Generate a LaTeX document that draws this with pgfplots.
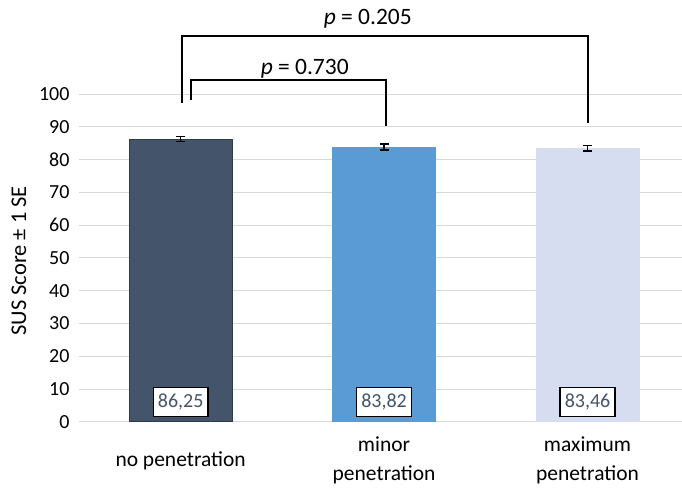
\documentclass[border=0pt]{standalone}
\usepackage{fontspec}
\setmainfont{Carlito}
\usepackage{pgfplots}
\pgfplotsset{compat=1.18}
\definecolor{barA}{HTML}{44546A}
\definecolor{barB}{HTML}{5B9BD5}
\definecolor{barC}{HTML}{D6DDF0}
\definecolor{gridc}{HTML}{D9D9D9}
\definecolor{labc}{HTML}{44546A}
\begin{document}
\begin{tikzpicture}
\begin{axis}[
  name=ax,
  scale only axis,
  width=603bp, height=328bp,
  xmin=-0.5, xmax=2.462,
  ymin=0, ymax=100,
  ytick={0,10,...,100},
  xtick={0,1,2},
  xticklabels={no penetration, minor\\penetration, maximum\\penetration},
  xticklabel style={align=center, anchor=center, yshift=-39bp, font=\fontsize{21.5bp}{29bp}\selectfont},
  yticklabel style={font=\fontsize{20bp}{22bp}\selectfont, xshift=-6bp},
  /pgf/number format/assume math mode=true,
  ylabel={SUS Score ± 1 SE},
  ylabel style={font=\fontsize{22.5bp}{24bp}\selectfont, at={(-60bp,161bp)}, anchor=center},
  major tick length=0pt,
  axis lines*=left,
  y axis line style={draw=none},
  x axis line style={gridc, line width=1pt, -},
  ymajorgrids,
  grid style={gridc, line width=0.8pt},
  clip=false,
  bar width=0.506,
]
\addplot[ybar, bar shift=0pt, fill=barA, draw=barA!70!black, line width=0.8pt,
  error bars/.cd, y dir=both, y explicit,
  error bar style={black, line width=1.3pt},
  error mark options={black, rotate=90, mark size=4.5bp, line width=1.3pt}]
  coordinates {(0,86.25) +- (0,0.8)};
\addplot[ybar, bar shift=0pt, fill=barB, draw=barB,
  error bars/.cd, y dir=both, y explicit,
  error bar style={black, line width=1.3pt},
  error mark options={black, rotate=90, mark size=4.5bp, line width=1.3pt}]
  coordinates {(1,83.82) +- (0,0.9)};
\addplot[ybar, bar shift=0pt, fill=barC, draw=barC,
  error bars/.cd, y dir=both, y explicit,
  error bar style={black, line width=1.3pt},
  error mark options={black, rotate=90, mark size=4.5bp, line width=1.3pt}]
  coordinates {(2,83.46) +- (0,0.9)};
% brackets
\addplot[black, line width=2pt, no marks, sharp plot]
  coordinates {(0.005,97.3) (0.005,117.7) (2.0,117.7) (2.0,91.2)};
\addplot[black, line width=2pt, no marks, sharp plot]
  coordinates {(0.05,98.2) (0.05,104.3) (1.01,104.3) (1.01,90.2)};
\node[font=\fontsize{23.5bp}{25bp}\selectfont] at (axis cs:0.92,123) {\textit{p} = 0.205};
\node[font=\fontsize{23.5bp}{25bp}\selectfont] at (axis cs:0.61,107.6) {\textit{p} = 0.730};
% value labels
\foreach \xx/\lab in {0/{86,25},1/{83,82},2/{83,46}}{
  \edef\tmp{\noexpand\node[draw=black, line width=1.3pt, fill=white, text=labc,
    minimum width=55bp, minimum height=29bp, inner sep=2pt,
    font=\noexpand\fontsize{20bp}{22bp}\noexpand\selectfont]
    at (axis cs:\xx,6) {\lab};}
  \tmp
}
\end{axis}
\path[use as bounding box] ([xshift=-79bp,yshift=-66bp]ax.south west) rectangle ([yshift=94bp]ax.north east);
\end{tikzpicture}
\end{document}
